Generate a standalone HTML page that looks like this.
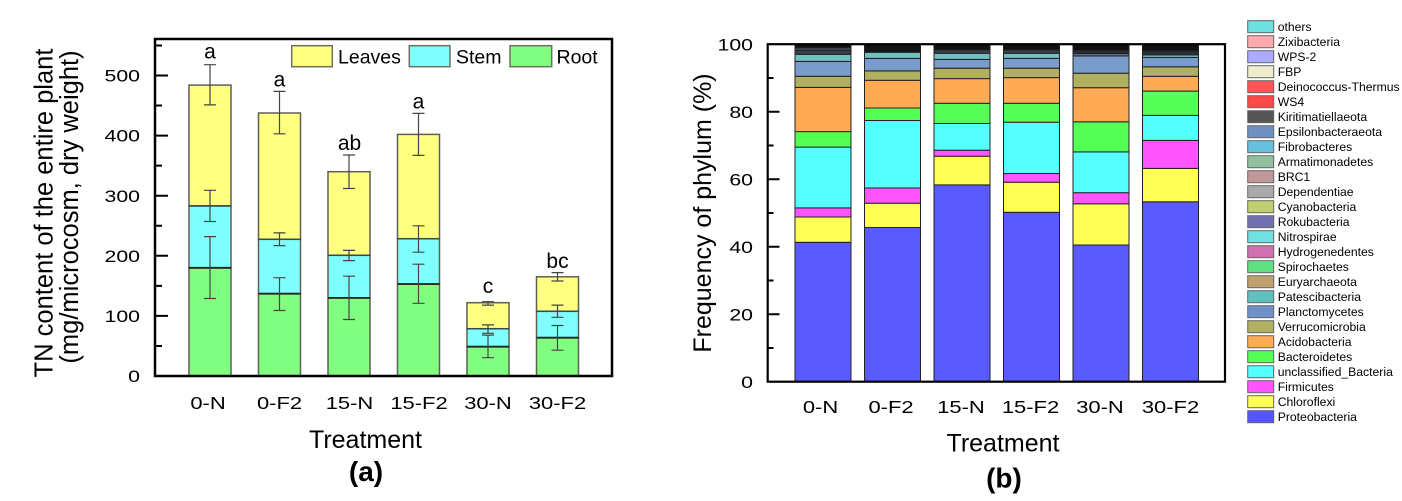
<!DOCTYPE html>
<html><head><meta charset="utf-8"><style>
html,body{margin:0;padding:0;background:#fff;}
svg{display:block;}
text{font-family:"Liberation Sans",Arial,sans-serif;fill:#000;}
</style></head><body>
<svg width="1402" height="501" viewBox="0 0 1402 501" xmlns="http://www.w3.org/2000/svg">
<rect x="0" y="0" width="1402" height="501" fill="#fff"/>

<!-- ================= PANEL A ================= -->
<g stroke="#5f5f55" stroke-width="1.5">
<!-- 0-N -->
<rect x="189" y="267.8" width="42" height="108.2" fill="#80ff80"/>
<rect x="189" y="205.9" width="42" height="61.9" fill="#80ffff"/>
<rect x="189" y="85.1" width="42" height="120.8" fill="#ffff80"/>
<!-- 0-F2 -->
<rect x="258.5" y="293.7" width="42" height="82.3" fill="#80ff80"/>
<rect x="258.5" y="239.3" width="42" height="54.4" fill="#80ffff"/>
<rect x="258.5" y="113.0" width="42" height="126.3" fill="#ffff80"/>
<!-- 15-N -->
<rect x="328" y="297.9" width="42" height="78.1" fill="#80ff80"/>
<rect x="328" y="255.3" width="42" height="42.6" fill="#80ffff"/>
<rect x="328" y="171.7" width="42" height="83.6" fill="#ffff80"/>
<!-- 15-F2 -->
<rect x="397.5" y="284.0" width="42" height="92" fill="#80ff80"/>
<rect x="397.5" y="238.7" width="42" height="45.3" fill="#80ffff"/>
<rect x="397.5" y="134.4" width="42" height="104.3" fill="#ffff80"/>
<!-- 30-N -->
<rect x="467" y="346.7" width="42" height="29.3" fill="#80ff80"/>
<rect x="467" y="328.7" width="42" height="18" fill="#80ffff"/>
<rect x="467" y="302.7" width="42" height="26" fill="#ffff80"/>
<!-- 30-F2 -->
<rect x="536.5" y="337.7" width="42" height="38.3" fill="#80ff80"/>
<rect x="536.5" y="311.3" width="42" height="26.4" fill="#80ffff"/>
<rect x="536.5" y="276.8" width="42" height="34.5" fill="#ffff80"/>
</g>
<!-- segment boundaries darker -->
<g stroke="#222" stroke-width="1.8">
<line x1="189" y1="267.8" x2="231" y2="267.8"/>
<line x1="258.5" y1="293.7" x2="300.5" y2="293.7"/>
<line x1="328" y1="297.9" x2="370" y2="297.9"/>
<line x1="397.5" y1="284.0" x2="439.5" y2="284.0"/>
<line x1="467" y1="346.7" x2="509" y2="346.7"/>
<line x1="536.5" y1="337.7" x2="578.5" y2="337.7"/>
</g>
<g stroke="#3a4a4a" stroke-width="1.5">
<line x1="189" y1="205.9" x2="231" y2="205.9"/>
<line x1="258.5" y1="239.3" x2="300.5" y2="239.3"/>
<line x1="328" y1="255.3" x2="370" y2="255.3"/>
<line x1="397.5" y1="238.7" x2="439.5" y2="238.7"/>
<line x1="467" y1="328.7" x2="509" y2="328.7"/>
<line x1="536.5" y1="311.3" x2="578.5" y2="311.3"/>
</g>
<!-- error bars -->
<g stroke="#444" stroke-width="1.2" fill="none">
<path d="M210,236.6V298.5M204,236.6H216M204,298.5H216"/>
<path d="M210,190.3V221.5M204,190.3H216M204,221.5H216"/>
<path d="M210,64.7V104.9M204,64.7H216M204,104.9H216"/>
<path d="M279.5,277.7V310.5M273.5,277.7H285.5M273.5,310.5H285.5"/>
<path d="M279.5,232.9V245.6M273.5,232.9H285.5M273.5,245.6H285.5"/>
<path d="M279.5,91.4V133.8M273.5,91.4H285.5M273.5,133.8H285.5"/>
<path d="M349,276.2V319.5M343,276.2H355M343,319.5H355"/>
<path d="M349,250.4V260.6M343,250.4H355M343,260.6H355"/>
<path d="M349,155.0V188.5M343,155.0H355M343,188.5H355"/>
<path d="M418.5,264.2V303.3M412.5,264.2H424.5M412.5,303.3H424.5"/>
<path d="M418.5,225.8V252.2M412.5,225.8H424.5M412.5,252.2H424.5"/>
<path d="M418.5,113.4V155.4M412.5,113.4H424.5M412.5,155.4H424.5"/>
<path d="M488,335.1V357.7M482,335.1H494M482,357.7H494"/>
<path d="M488,324.9V333.3M482,324.9H494M482,333.3H494"/>
<path d="M488,301.7V305.1M482,301.7H494M482,305.1H494"/>
<path d="M557.5,325.5V350.2M551.5,325.5H563.5M551.5,350.2H563.5"/>
<path d="M557.5,305.1V317.3M551.5,305.1H563.5M551.5,317.3H563.5"/>
<path d="M557.5,272.6V281.0M551.5,272.6H563.5M551.5,281.0H563.5"/>
</g>
<!-- axes frame A -->
<rect x="155" y="39" width="457" height="337" fill="none" stroke="#000" stroke-width="2.5"/>
<g stroke="#000" stroke-width="2">
<path d="M155,376H168M155,315.9H168M155,255.8H168M155,195.7H168M155,135.6H168M155,75.5H168"/>
<path d="M155,345.95H162M155,285.85H162M155,225.75H162M155,165.65H162M155,105.55H162M155,45.45H162"/>
</g>
<!-- y tick labels A -->
<g font-size="17" text-anchor="end">
<text transform="translate(140,382.1) scale(1.25,1)">0</text>
<text transform="translate(140,322) scale(1.25,1)">100</text>
<text transform="translate(140,261.9) scale(1.25,1)">200</text>
<text transform="translate(140,201.8) scale(1.25,1)">300</text>
<text transform="translate(140,141.7) scale(1.25,1)">400</text>
<text transform="translate(140,81.6) scale(1.25,1)">500</text>
</g>
<!-- x tick labels A -->
<g font-size="18" text-anchor="middle">
<text transform="translate(208,409) scale(1.22,1)">0-N</text>
<text transform="translate(279.5,409) scale(1.22,1)">0-F2</text>
<text transform="translate(349.5,409) scale(1.22,1)">15-N</text>
<text transform="translate(419,409) scale(1.22,1)">15-F2</text>
<text transform="translate(488,409) scale(1.22,1)">30-N</text>
<text transform="translate(557.5,409) scale(1.22,1)">30-F2</text>
</g>
<!-- significance letters -->
<g font-size="21" text-anchor="middle">
<text x="210" y="58.3">a</text>
<text x="279.5" y="86.7">a</text>
<text x="349.5" y="150">ab</text>
<text x="418.5" y="108.3">a</text>
<text x="488" y="293">c</text>
<text x="557.5" y="268">bc</text>
</g>
<!-- legend A -->
<g stroke="#707060" stroke-width="1.5">
<rect x="291.7" y="45.7" width="40.6" height="21" fill="#ffff80"/>
<rect x="409.3" y="45.7" width="40.7" height="21" fill="#80ffff"/>
<rect x="510" y="45.7" width="41.7" height="21" fill="#80ff80"/>
</g>
<g font-size="19.5">
<text x="338" y="63.3">Leaves</text>
<text x="456" y="63.3">Stem</text>
<text x="556.5" y="63.3">Root</text>
</g>
<!-- axis titles A -->
<text transform="translate(52.7,213) rotate(-90)" font-size="25.5" text-anchor="middle">TN content of the entire plant</text>
<text transform="translate(78,207) rotate(-90)" font-size="25.5" text-anchor="middle">(mg/microcosm, dry weight)</text>
<text x="365.5" y="448" font-size="25" text-anchor="middle">Treatment</text>
<text x="366" y="481" font-size="28" font-weight="bold" text-anchor="middle">(a)</text>

<!-- ================= PANEL B ================= -->
<g stroke="#222" stroke-width="1">
<!-- 0-N -->
<rect x="795" y="242.3" width="56" height="139.4" fill="#5a5aff"/>
<rect x="795" y="217.0" width="56" height="25.3" fill="#ffff55"/>
<rect x="795" y="207.9" width="56" height="9.1" fill="#ff55ff"/>
<rect x="795" y="147.1" width="56" height="60.8" fill="#55ffff"/>
<rect x="795" y="131.6" width="56" height="15.5" fill="#55ff55"/>
<rect x="795" y="87.4" width="56" height="44.2" fill="#ffaa55"/>
<rect x="795" y="76.3" width="56" height="11.1" fill="#b0b060"/>
<rect x="795" y="61.4" width="56" height="14.9" fill="#7a9ccc"/>
<rect x="795" y="54.3" width="56" height="7.1" fill="#70c0c0"/>
<rect x="795" y="50.3" width="56" height="4" fill="#3a3f48"/>
<rect x="795" y="47.8" width="56" height="2.5" fill="#4a5263"/>
<rect x="795" y="44.2" width="56" height="3.6" fill="#111"/>
<!-- 0-F2 -->
<rect x="864.5" y="227.5" width="56" height="154.2" fill="#5a5aff"/>
<rect x="864.5" y="203.2" width="56" height="24.3" fill="#ffff55"/>
<rect x="864.5" y="188.0" width="56" height="15.2" fill="#ff55ff"/>
<rect x="864.5" y="120.5" width="56" height="67.5" fill="#55ffff"/>
<rect x="864.5" y="108.0" width="56" height="12.5" fill="#55ff55"/>
<rect x="864.5" y="80.3" width="56" height="27.7" fill="#ffaa55"/>
<rect x="864.5" y="70.9" width="56" height="9.4" fill="#b0b060"/>
<rect x="864.5" y="58.4" width="56" height="12.5" fill="#7a9ccc"/>
<rect x="864.5" y="52.3" width="56" height="6.1" fill="#70c0c0"/>
<rect x="864.5" y="44.2" width="56" height="8.1" fill="#131313"/>
<!-- 15-N -->
<rect x="934" y="184.9" width="56" height="196.8" fill="#5a5aff"/>
<rect x="934" y="156.2" width="56" height="28.7" fill="#ffff55"/>
<rect x="934" y="150.2" width="56" height="6" fill="#ff55ff"/>
<rect x="934" y="123.5" width="56" height="26.7" fill="#55ffff"/>
<rect x="934" y="103.3" width="56" height="20.2" fill="#55ff55"/>
<rect x="934" y="78.6" width="56" height="24.7" fill="#ffaa55"/>
<rect x="934" y="68.2" width="56" height="10.4" fill="#b0b060"/>
<rect x="934" y="59.4" width="56" height="8.8" fill="#7a9ccc"/>
<rect x="934" y="53.3" width="56" height="6.1" fill="#70c0c0"/>
<rect x="934" y="50.0" width="56" height="3.3" fill="#3a3f48"/>
<rect x="934" y="44.2" width="56" height="5.8" fill="#111"/>
<!-- 15-F2 -->
<rect x="1003.5" y="212.3" width="56" height="169.4" fill="#5a5aff"/>
<rect x="1003.5" y="182.2" width="56" height="30.1" fill="#ffff55"/>
<rect x="1003.5" y="173.5" width="56" height="8.7" fill="#ff55ff"/>
<rect x="1003.5" y="122.2" width="56" height="51.3" fill="#55ffff"/>
<rect x="1003.5" y="103.3" width="56" height="18.9" fill="#55ff55"/>
<rect x="1003.5" y="77.6" width="56" height="25.7" fill="#ffaa55"/>
<rect x="1003.5" y="68.2" width="56" height="9.4" fill="#b0b060"/>
<rect x="1003.5" y="58.4" width="56" height="9.8" fill="#7a9ccc"/>
<rect x="1003.5" y="53.3" width="56" height="5.1" fill="#70c0c0"/>
<rect x="1003.5" y="50.0" width="56" height="3.3" fill="#3a3f48"/>
<rect x="1003.5" y="44.2" width="56" height="5.8" fill="#111"/>
<!-- 30-N -->
<rect x="1073" y="245.0" width="56" height="136.7" fill="#5a5aff"/>
<rect x="1073" y="203.8" width="56" height="41.2" fill="#ffff55"/>
<rect x="1073" y="192.7" width="56" height="11.1" fill="#ff55ff"/>
<rect x="1073" y="151.9" width="56" height="40.8" fill="#55ffff"/>
<rect x="1073" y="121.8" width="56" height="30.1" fill="#55ff55"/>
<rect x="1073" y="87.7" width="56" height="34.1" fill="#ffaa55"/>
<rect x="1073" y="73.2" width="56" height="14.5" fill="#b0b060"/>
<rect x="1073" y="56.0" width="56" height="17.2" fill="#7a9ccc"/>
<rect x="1073" y="53.5" width="56" height="2.5" fill="#5a6a80"/>
<rect x="1073" y="50.5" width="56" height="3" fill="#2a2e38"/>
<rect x="1073" y="44.2" width="56" height="6.3" fill="#111"/>
<!-- 30-F2 -->
<rect x="1142.5" y="201.8" width="56" height="179.9" fill="#5a5aff"/>
<rect x="1142.5" y="168.4" width="56" height="33.4" fill="#ffff55"/>
<rect x="1142.5" y="140.4" width="56" height="28" fill="#ff55ff"/>
<rect x="1142.5" y="115.4" width="56" height="25" fill="#55ffff"/>
<rect x="1142.5" y="91.1" width="56" height="24.3" fill="#55ff55"/>
<rect x="1142.5" y="76.3" width="56" height="14.8" fill="#ffaa55"/>
<rect x="1142.5" y="66.8" width="56" height="9.5" fill="#b0b060"/>
<rect x="1142.5" y="57.4" width="56" height="9.4" fill="#7a9ccc"/>
<rect x="1142.5" y="55.0" width="56" height="2.4" fill="#70c0c0"/>
<rect x="1142.5" y="51.0" width="56" height="4" fill="#2a2e38"/>
<rect x="1142.5" y="44.2" width="56" height="6.8" fill="#111"/>
</g>
<!-- axes frame B -->
<rect x="767.7" y="44.2" width="457.3" height="337.5" fill="none" stroke="#000" stroke-width="2.2"/>
<g stroke="#000" stroke-width="2">
<path d="M767.7,314.2H779.5M767.7,246.7H779.5M767.7,179.2H779.5M767.7,111.7H779.5"/>
<path d="M767.7,347.95H773.5M767.7,280.45H773.5M767.7,212.95H773.5M767.7,145.45H773.5M767.7,77.95H773.5"/>
</g>
<!-- y tick labels B -->
<g font-size="17" text-anchor="end">
<text transform="translate(753,387.8) scale(1.25,1)">0</text>
<text transform="translate(753,320.3) scale(1.25,1)">20</text>
<text transform="translate(753,252.8) scale(1.25,1)">40</text>
<text transform="translate(753,185.3) scale(1.25,1)">60</text>
<text transform="translate(753,117.8) scale(1.25,1)">80</text>
<text transform="translate(753,50.3) scale(1.25,1)">100</text>
</g>
<!-- x tick labels B -->
<g font-size="18" text-anchor="middle">
<text transform="translate(820.5,413) scale(1.22,1)">0-N</text>
<text transform="translate(891,413) scale(1.22,1)">0-F2</text>
<text transform="translate(961,413) scale(1.22,1)">15-N</text>
<text transform="translate(1030.5,413) scale(1.22,1)">15-F2</text>
<text transform="translate(1100,413) scale(1.22,1)">30-N</text>
<text transform="translate(1170.5,413) scale(1.22,1)">30-F2</text>
</g>
<!-- axis titles B -->
<text transform="translate(711,213) rotate(-90)" font-size="25" text-anchor="middle">Frequency of phylum (%)</text>
<text x="1003" y="451.7" font-size="25" text-anchor="middle">Treatment</text>
<text x="1004" y="487.5" font-size="28" font-weight="bold" text-anchor="middle">(b)</text>

<!-- legend B -->
<g stroke="#666" stroke-width="1">
<rect x="1247.7" y="20.7" width="26" height="12" fill="#6ee0e0"/>
<rect x="1247.7" y="35.7" width="26" height="12" fill="#ffaaaa"/>
<rect x="1247.7" y="50.7" width="26" height="12" fill="#aaaaff"/>
<rect x="1247.7" y="65.7" width="26" height="12" fill="#eeeecc"/>
<rect x="1247.7" y="80.7" width="26" height="12" fill="#ff5555"/>
<rect x="1247.7" y="95.7" width="26" height="12" fill="#ff4848"/>
<rect x="1247.7" y="110.7" width="26" height="12" fill="#555555"/>
<rect x="1247.7" y="125.7" width="26" height="12" fill="#7090c0"/>
<rect x="1247.7" y="140.7" width="26" height="12" fill="#66c0e0"/>
<rect x="1247.7" y="155.7" width="26" height="12" fill="#90c0a0"/>
<rect x="1247.7" y="170.7" width="26" height="12" fill="#c09898"/>
<rect x="1247.7" y="185.7" width="26" height="12" fill="#aaaaaa"/>
<rect x="1247.7" y="200.7" width="26" height="12" fill="#c0d070"/>
<rect x="1247.7" y="215.7" width="26" height="12" fill="#7070b0"/>
<rect x="1247.7" y="230.7" width="26" height="12" fill="#70e0e0"/>
<rect x="1247.7" y="245.7" width="26" height="12" fill="#d070b0"/>
<rect x="1247.7" y="260.7" width="26" height="12" fill="#60e080"/>
<rect x="1247.7" y="275.7" width="26" height="12" fill="#c0a070"/>
<rect x="1247.7" y="290.7" width="26" height="12" fill="#60c0c0"/>
<rect x="1247.7" y="305.7" width="26" height="12" fill="#7090c8"/>
<rect x="1247.7" y="320.7" width="26" height="12" fill="#b0b060"/>
<rect x="1247.7" y="335.7" width="26" height="12" fill="#ffaa55"/>
<rect x="1247.7" y="350.7" width="26" height="12" fill="#55ff55"/>
<rect x="1247.7" y="365.7" width="26" height="12" fill="#55ffff"/>
<rect x="1247.7" y="380.7" width="26" height="12" fill="#ff55ff"/>
<rect x="1247.7" y="395.7" width="26" height="12" fill="#ffff55"/>
<rect x="1247.7" y="410.7" width="26" height="12" fill="#5555ff"/>
</g>
<g font-size="12.2">
<text x="1277.7" y="31">others</text>
<text x="1277.7" y="46">Zixibacteria</text>
<text x="1277.7" y="61">WPS-2</text>
<text x="1277.7" y="76">FBP</text>
<text x="1277.7" y="91">Deinococcus-Thermus</text>
<text x="1277.7" y="106">WS4</text>
<text x="1277.7" y="121">Kiritimatiellaeota</text>
<text x="1277.7" y="136">Epsilonbacteraeota</text>
<text x="1277.7" y="151">Fibrobacteres</text>
<text x="1277.7" y="166">Armatimonadetes</text>
<text x="1277.7" y="181">BRC1</text>
<text x="1277.7" y="196">Dependentiae</text>
<text x="1277.7" y="211">Cyanobacteria</text>
<text x="1277.7" y="226">Rokubacteria</text>
<text x="1277.7" y="241">Nitrospirae</text>
<text x="1277.7" y="256">Hydrogenedentes</text>
<text x="1277.7" y="271">Spirochaetes</text>
<text x="1277.7" y="286">Euryarchaeota</text>
<text x="1277.7" y="301">Patescibacteria</text>
<text x="1277.7" y="316">Planctomycetes</text>
<text x="1277.7" y="331">Verrucomicrobia</text>
<text x="1277.7" y="346">Acidobacteria</text>
<text x="1277.7" y="361">Bacteroidetes</text>
<text x="1277.7" y="376">unclassified_Bacteria</text>
<text x="1277.7" y="391">Firmicutes</text>
<text x="1277.7" y="406">Chloroflexi</text>
<text x="1277.7" y="421">Proteobacteria</text>
</g>
</svg>
</body></html>
